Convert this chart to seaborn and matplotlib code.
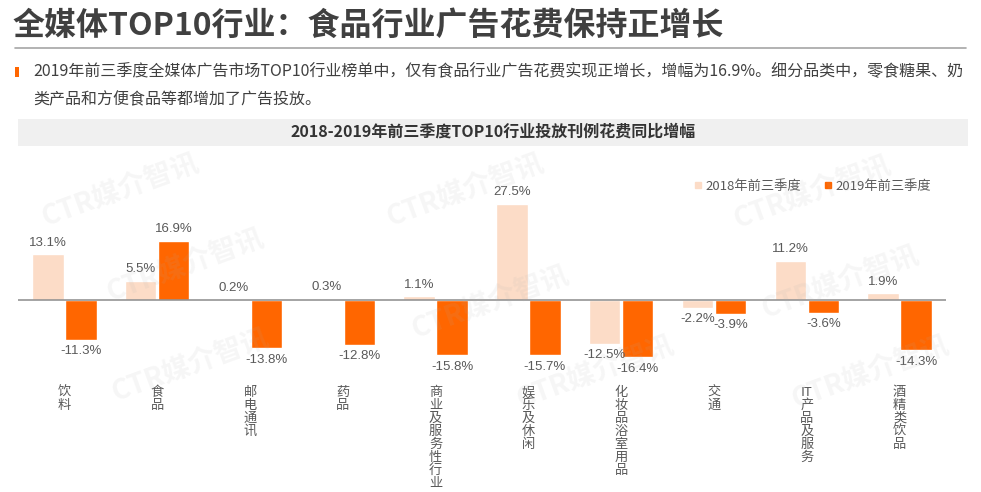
import pandas as pd
import matplotlib.pyplot as plt
import seaborn as sns
from matplotlib.patches import Rectangle
from matplotlib.lines import Line2D

# Data
categories = [["饮", "料"], ["食", "品"], ["邮", "电", "通", "讯"], ["药", "品"],
              ["商", "业", "及", "服", "务", "性", "行", "业"], ["娱", "乐", "及", "休", "闲"],
              ["化", "妆", "品", "浴", "室", "用", "品"], ["交", "通"],
              ["IT", "产", "品", "及", "服", "务"], ["酒", "精", "类", "饮", "品"]]
series = ["2018年前三季度", "2019年前三季度"]
growth_2018 = [13.1, 5.5, 0.2, 0.3, 1.1, 27.5, -12.5, -2.2, 11.2, 1.9]
growth_2019 = [-11.3, 16.9, -13.8, -12.8, -15.8, -15.7, -16.4, -3.9, -3.6, -14.3]
colors = ["#FCDCC7", "#FF6600"]

names = ["".join(c) for c in categories]
df = pd.DataFrame({
    "industry": names * 2,
    "period": [series[0]] * len(names) + [series[1]] * len(names),
    "growth": growth_2018 + growth_2019,
})

sns.set_theme(style="white")
plt.rcParams["font.family"] = ["Noto Sans CJK SC", "DejaVu Sans"]

W, H = 981, 492
fig = plt.figure(figsize=(W / 100, H / 100), dpi=100)


def fx(x):
    return x / W


def fy(y):
    return 1 - y / H


# Header
fig.text(fx(12), fy(26), "全媒体TOP10行业：食品行业广告花费保持正增长", fontsize=23,
         fontweight="bold", color="#404040", va="center", ha="left")
fig.add_artist(Line2D([fx(15), fx(966)], [fy(48), fy(48)], color="#a6a6a6", lw=1.2))
fig.add_artist(Rectangle((fx(15), fy(77)), fx(4), 10 / H, color="#FF6600", lw=0))
fig.text(fx(33), fy(72), "2019年前三季度全媒体广告市场TOP10行业榜单中，仅有食品行业广告花费实现正增长，增幅为16.9%。细分品类中，零食糖果、奶",
         fontsize=11.5, color="#404040", va="center", ha="left")
fig.text(fx(33), fy(100), "类产品和方便食品等都增加了广告投放。",
         fontsize=11.5, color="#404040", va="center", ha="left")

# Chart title banner
fig.add_artist(Rectangle((fx(18), fy(146)), fx(950), 27 / H, color="#F0F0F0", lw=0))
fig.text(fx(493), fy(132), "2018-2019年前三季度TOP10行业投放刊例花费同比增幅", fontsize=11.5,
         fontweight="bold", color="#333333", va="center", ha="center")

# Bars
ax = fig.add_axes([fx(18), fy(375), fx(946 - 18), (375 - 160) / H])
sns.barplot(data=df, x="industry", y="growth", hue="period", palette=colors,
            width=0.71, gap=0.05, ax=ax, legend=False, saturation=1)
ax.set_xlim(-0.5, len(names) - 0.5)
ax.set_ylim(-21.4, 40)
ax.axhline(0, color="#8c8c8c", lw=1.1, zorder=3)
for container in ax.containers:
    ax.bar_label(container, fmt="%.1f%%", padding=4, fontsize=9.5, color="#595959",
                 family=["Liberation Sans", "Noto Sans CJK SC"])

ax.set_yticks([])
ax.set_xticks(range(len(names)))
ax.set_xticklabels(["\n".join(c) for c in categories], fontsize=9.5, color="#595959",
                   linespacing=1.0, va="top")
ax.tick_params(axis="x", length=0, pad=8)
ax.set_xlabel("")
ax.set_ylabel("")
sns.despine(ax=ax, left=True, bottom=True)
ax.patch.set_alpha(0)

handles = [Line2D([], [], marker="s", linestyle="none", markersize=5, color=c) for c in colors]
ax.legend(handles, series, loc="center left", bbox_to_anchor=(fx(692), fy(186)),
          bbox_transform=fig.transFigure, ncol=2, frameon=False, fontsize=9.5,
          handletextpad=0.1, columnspacing=1.6, borderpad=0, borderaxespad=0,
          handlelength=0.9, labelcolor="#595959")

# Watermarks
for wx, wy in [(120, 190), (465, 190), (812, 192), (185, 265), (490, 302),
               (840, 282), (190, 365), (595, 372), (870, 372)]:
    fig.text(fx(wx), fy(wy), "CTR媒介智讯", fontsize=20, fontweight="bold",
             color="#b0b0b0", alpha=0.11, rotation=20, ha="center", va="center")

fig.savefig("out.png", dpi=100)
